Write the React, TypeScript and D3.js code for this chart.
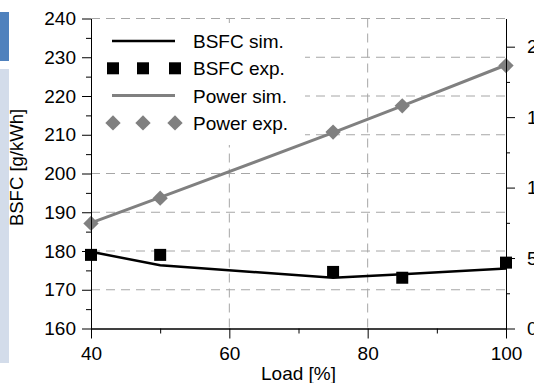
import React, { useRef, useEffect } from 'react';
import * as d3 from 'd3';

// chart values
const loads = [40, 50, 75, 85, 100];
const bsfcSim = [179.8, 176.3, 173.1, 174.0, 175.5];
const bsfcExp = [179.0, 179.0, 174.6, 173.1, 177.0];
const powerSim = [7.5, 9.3, 13.9, 15.8, 18.7];
const powerExp = [7.46, 9.25, 13.94, 15.8, 18.66];
const bsfcTicks = [160, 170, 180, 190, 200, 210, 220, 230, 240];
const powerTicks = [0, 5, 10, 15, 20];
const loadTicks = [40, 60, 80, 100];
const legendLabels = ['BSFC sim.', 'BSFC exp.', 'Power sim.', 'Power exp.'];

const W = 534;
const H = 383;
const FONT = '"Liberation Sans", Arial, sans-serif';

const App = () => {
  const svgRef = useRef(null);

  useEffect(() => {
    const svg = d3.select(svgRef.current);
    svg.selectAll('*').remove();

    const margin = { top: 18.5, right: 28, bottom: 54.5, left: 91 };
    const x = d3.scaleLinear().domain([40, 100]).range([margin.left, W - margin.right]);
    const yL = d3.scaleLinear().domain([160, 240]).range([H - margin.bottom, margin.top]);
    const yR = d3.scaleLinear().domain([0, 22]).range([H - margin.bottom, margin.top]);

    // bits of the slide at the left edge
    svg.append('rect').attr('x', 0).attr('y', 12).attr('width', 9).attr('height', 49).attr('fill', '#4f81bd');
    svg.append('rect').attr('x', 0).attr('y', 69).attr('width', 9).attr('height', 294).attr('fill', '#d3dcea');

    // grid
    const grid = svg.append('g').attr('stroke', '#a6a6a6').attr('stroke-width', 1).attr('stroke-dasharray', '9,6');
    grid.selectAll('.hg')
      .data(bsfcTicks.slice(1))
      .enter()
      .append('line')
      .attr('x1', x(40)).attr('x2', x(100))
      .attr('y1', d => yL(d)).attr('y2', d => yL(d));
    grid.selectAll('.vg')
      .data([60, 80])
      .enter()
      .append('line')
      .attr('x1', d => x(d)).attr('x2', d => x(d))
      .attr('y1', yL(240)).attr('y2', yL(160));

    // legend background hides the grid
    svg.append('rect')
      .attr('x', x(40) + 1).attr('y', 23)
      .attr('width', 213).attr('height', 122)
      .attr('fill', '#fff');

    // power
    const powerLine = d3.line().x((d, i) => x(loads[i])).y(d => yR(d));
    svg.append('path')
      .datum(powerSim)
      .attr('d', powerLine)
      .attr('fill', 'none')
      .attr('stroke', '#808080')
      .attr('stroke-width', 3);
    const diamond = d3.symbol().type(d3.symbolDiamond2).size(150);
    svg.selectAll('.pexp')
      .data(powerExp)
      .enter()
      .append('path')
      .attr('d', diamond)
      .attr('transform', (d, i) => `translate(${x(loads[i])},${yR(d)})`)
      .attr('fill', '#808080');

    // bsfc
    const bsfcLine = d3.line().x((d, i) => x(loads[i])).y(d => yL(d));
    svg.append('path')
      .datum(bsfcSim)
      .attr('d', bsfcLine)
      .attr('fill', 'none')
      .attr('stroke', '#000')
      .attr('stroke-width', 2.5);
    svg.selectAll('.bexp')
      .data(bsfcExp)
      .enter()
      .append('rect')
      .attr('x', (d, i) => x(loads[i]) - 6)
      .attr('y', d => yL(d) - 6)
      .attr('width', 12)
      .attr('height', 12)
      .attr('fill', '#000');

    // axes
    const styleAxis = (g) => {
      g.select('.domain').attr('stroke', '#000');
      g.selectAll('.tick line').attr('stroke', '#000');
      g.selectAll('.tick text').attr('font-size', 19).attr('font-family', FONT).attr('fill', '#000');
    };
    svg.append('g')
      .attr('transform', `translate(${x(40)},0)`)
      .call(d3.axisLeft(yL).tickValues(bsfcTicks.slice(0, -1).map(d => d + 5)).tickSize(5).tickFormat(() => '').tickSizeOuter(0))
      .call(styleAxis);
    svg.append('g')
      .attr('transform', `translate(${x(40)},0)`)
      .call(d3.axisLeft(yL).tickValues(bsfcTicks).tickSize(9).tickPadding(6).tickSizeOuter(0))
      .call(styleAxis);

    svg.append('g')
      .attr('transform', `translate(${x(100)},0)`)
      .call(d3.axisRight(yR).tickValues(powerTicks.slice(0, -1).map(d => d + 2.5)).tickSize(4).tickFormat(() => '').tickSizeOuter(0))
      .call(styleAxis);
    svg.append('g')
      .attr('transform', `translate(${x(100)},0)`)
      .call(d3.axisRight(yR).tickValues(powerTicks).tickSize(9).tickPadding(12).tickSizeOuter(0))
      .call(styleAxis);

    svg.append('g')
      .attr('transform', `translate(0,${yL(160)})`)
      .call(d3.axisBottom(x).tickValues([50, 70, 90]).tickSize(5).tickFormat(() => '').tickSizeOuter(0))
      .call(styleAxis);
    svg.append('g')
      .attr('transform', `translate(0,${yL(160)})`)
      .call(d3.axisBottom(x).tickValues(loadTicks).tickSize(10).tickPadding(8).tickSizeOuter(0))
      .call(styleAxis);

    // axis titles
    svg.append('text')
      .attr('x', (x(40) + x(100)) / 2)
      .attr('y', 380)
      .attr('text-anchor', 'middle')
      .attr('font-size', 19)
      .attr('font-family', FONT)
      .text('Load [%]');
    svg.append('text')
      .attr('transform', `translate(23,${(yL(160) + yL(240)) / 2 - 6}) rotate(-90)`)
      .attr('text-anchor', 'middle')
      .attr('font-size', 18.5)
      .attr('font-family', FONT)
      .text('BSFC [g/kWh]');

    // legend
    const legend = svg.append('g');
    const rowY = (i) => 41 + i * 27.3;
    legend.append('line').attr('x1', 112).attr('x2', 175).attr('y1', rowY(0)).attr('y2', rowY(0))
      .attr('stroke', '#000').attr('stroke-width', 2.5);
    legend.selectAll('.lsq')
      .data([113, 143, 175])
      .enter()
      .append('rect')
      .attr('x', d => d - 6).attr('y', rowY(1) - 6)
      .attr('width', 12).attr('height', 12)
      .attr('fill', '#000');
    legend.append('line').attr('x1', 112).attr('x2', 175).attr('y1', rowY(2)).attr('y2', rowY(2))
      .attr('stroke', '#808080').attr('stroke-width', 3);
    legend.selectAll('.ldm')
      .data([113, 143, 175])
      .enter()
      .append('path')
      .attr('d', diamond)
      .attr('transform', d => `translate(${d},${rowY(3)})`)
      .attr('fill', '#808080');
    legend.selectAll('.ltxt')
      .data(legendLabels)
      .enter()
      .append('text')
      .attr('x', 193)
      .attr('y', (d, i) => rowY(i) + 7)
      .attr('font-size', 19)
      .attr('font-family', FONT)
      .text(d => d);
  }, []);

  return (
    <svg
      ref={svgRef}
      width={W}
      height={H}
      style={{ position: 'absolute', left: 0, top: 0, background: '#fff' }}
    />
  );
};

export default App;
